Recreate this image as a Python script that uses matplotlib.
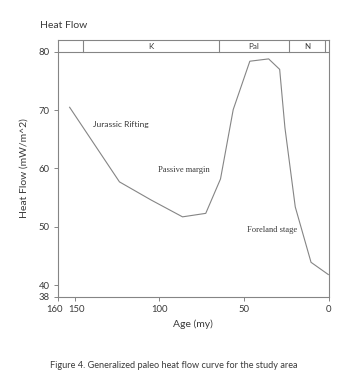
import matplotlib
matplotlib.use("Agg")
import matplotlib.pyplot as plt
import matplotlib.transforms as mtransforms

plt.rcParams['font.family'] = ['Lato', 'DejaVu Sans']

# curve (age in my, heat flow in mW/m^2)
age = [153, 123.6, 105, 86.4, 72.7, 64, 56.5, 46.7, 35.6, 29.1, 26, 19.9, 10.6, 0.4]
heat_flow = [70.5, 57.7, 54.6, 51.7, 52.3, 58.2, 70.1, 78.4, 78.8, 77.0, 67, 53.4, 43.9, 41.8]

# stratigraphic band
period_edges = [145, 65, 23.5, 2.5]
period_names = ['K', 'Pal', 'N']
period_mid = [105, 44.25, 13]

stage_labels = ['Jurassic Rifting', 'Passive margin', 'Foreland stage']
stage_pos = [(122.6, 67.6), (85.6, 59.8), (33.4, 49.4)]
stage_fonts = ['Lato', 'Liberation Serif', 'Liberation Serif']

grey = '#858585'
txt = '#3a3a3a'

fig = plt.figure(figsize=(3.5, 3.88), dpi=100)
ax = fig.add_axes([0.165, 0.2353, 0.775, 0.661])

ax.plot(age, heat_flow, color=grey, lw=0.8)

ax.set_xlim(160, 0)
ax.set_ylim(38, 82)
ax.set_xticks([160, 150, 100, 50, 0])
ax.set_yticks([38, 40, 50, 60, 70, 80])

# period band
ax.axhline(80, color=grey, lw=0.8)
for e in period_edges:
    ax.plot([e, e], [80, 82], color=grey, lw=0.8)
for name, m in zip(period_names, period_mid):
    ax.text(m, 81, name, ha='center', va='center', fontsize=5.8, color=txt)

for lab, (x, y), f in zip(stage_labels, stage_pos, stage_fonts):
    ax.text(x, y, lab, ha='center', va='center', fontsize=6.1, color=txt, family=f)

for s in ['left', 'right', 'top', 'bottom']:
    ax.spines[s].set_color(grey)
    ax.spines[s].set_linewidth(0.8)
ax.tick_params(direction='out', length=3, width=0.7, color=grey,
               labelsize=6.8, labelcolor=txt, pad=3)

# nudge the two crowded labels apart
xt = ax.get_xticklabels()
xt[0].set_transform(xt[0].get_transform() + mtransforms.ScaledTranslation(-3 / 100, 0, fig.dpi_scale_trans))
xt[1].set_transform(xt[1].get_transform() + mtransforms.ScaledTranslation(2 / 100, 0, fig.dpi_scale_trans))

ax.set_xlabel('Age (my)', fontsize=7.5, color=txt, labelpad=4)
ax.set_ylabel('Heat Flow (mW/m^2)', fontsize=7.5, color=txt, labelpad=7)

fig.text(40 / 350, 1 - 25 / 388, 'Heat Flow', fontsize=7.5, color=txt, ha='left', va='center')
fig.text(174 / 350, 1 - 365 / 388, 'Figure 4. Generalized paleo heat flow curve for the study area',
         fontsize=6.6, color=txt, ha='center', va='center')

fig.savefig('out.png', dpi=100, facecolor='white')
